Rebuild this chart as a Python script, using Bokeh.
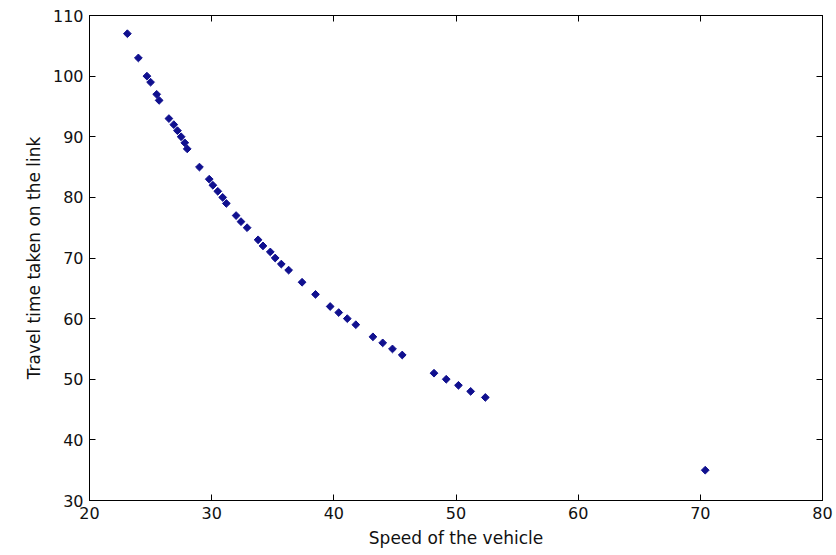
import math
from bokeh.plotting import figure
from bokeh.models import LinearAxis, FixedTicker, Range1d
from bokeh.embed import file_html
from bokeh.resources import INLINE

speed = [23.1, 24.0, 24.7, 25.0, 25.5, 25.7, 26.5, 26.9, 27.2, 27.5, 27.8, 28.0,
         29.0, 29.8, 30.1, 30.5, 30.9, 31.2, 32.0, 32.4, 32.9, 33.8, 34.2, 34.8,
         35.2, 35.7, 36.3, 37.4, 38.5, 39.7, 40.4, 41.1, 41.8, 43.2, 44.0, 44.8,
         45.6, 48.2, 49.2, 50.2, 51.2, 52.4, 70.4]
travel_time = [107, 103, 100, 99, 97, 96, 93, 92, 91, 90, 89, 88,
               85, 83, 82, 81, 80, 79, 77, 76, 75, 73, 72, 71,
               70, 69, 68, 66, 64, 62, 61, 60, 59, 57, 56, 55,
               54, 51, 50, 49, 48, 47, 35]
x_ticks = [20, 30, 40, 50, 60, 70, 80]
y_ticks = [30, 40, 50, 60, 70, 80, 90, 100, 110]
x_label = "Speed of the vehicle"
y_label = "Travel time taken on the link"

FONT = "DejaVu Sans"

p = figure(width=836, height=555, output_backend="svg", toolbar_location=None,
           x_range=Range1d(20, 80), y_range=Range1d(30, 110),
           min_border_left=89, min_border_right=14, min_border_top=15,
           min_border_bottom=55)
p.background_fill_color = "white"
p.border_fill_color = "white"
p.outline_line_color = "black"
p.outline_line_width = 1
p.xgrid.visible = False
p.ygrid.visible = False

def style_axis(ax, ticks, show_labels):
    ax.ticker = FixedTicker(ticks=ticks)
    ax.major_tick_in = 6
    ax.major_tick_out = 0
    ax.minor_tick_line_color = None
    ax.axis_line_color = "black"
    ax.major_tick_line_color = "black"
    if show_labels:
        ax.major_label_text_font = FONT
        ax.major_label_text_font_size = "16px"
        ax.major_label_text_color = "#111111"
        ax.major_label_standoff = 6
        ax.axis_label_text_font = FONT
        ax.axis_label_text_font_size = "17px"
        ax.axis_label_text_font_style = "normal"
        ax.axis_label_text_color = "#111111"
        ax.axis_label_standoff = 6
    else:
        ax.major_label_overrides = {t: "" for t in ticks}
        ax.major_label_standoff = 0

style_axis(p.xaxis[0], x_ticks, True)
style_axis(p.yaxis[0], y_ticks, True)
p.xaxis[0].axis_label = x_label
p.yaxis[0].axis_label = y_label

top_ax = LinearAxis()
style_axis(top_ax, x_ticks, False)
p.add_layout(top_ax, "above")
right_ax = LinearAxis()
style_axis(right_ax, y_ticks, False)
p.add_layout(right_ax, "right")

p.scatter(speed, travel_time, marker="square", size=5.5, angle=math.pi / 4,
          fill_color="#10108f", line_color="#10108f")

open("out.html", "w").write(file_html(p, INLINE))
